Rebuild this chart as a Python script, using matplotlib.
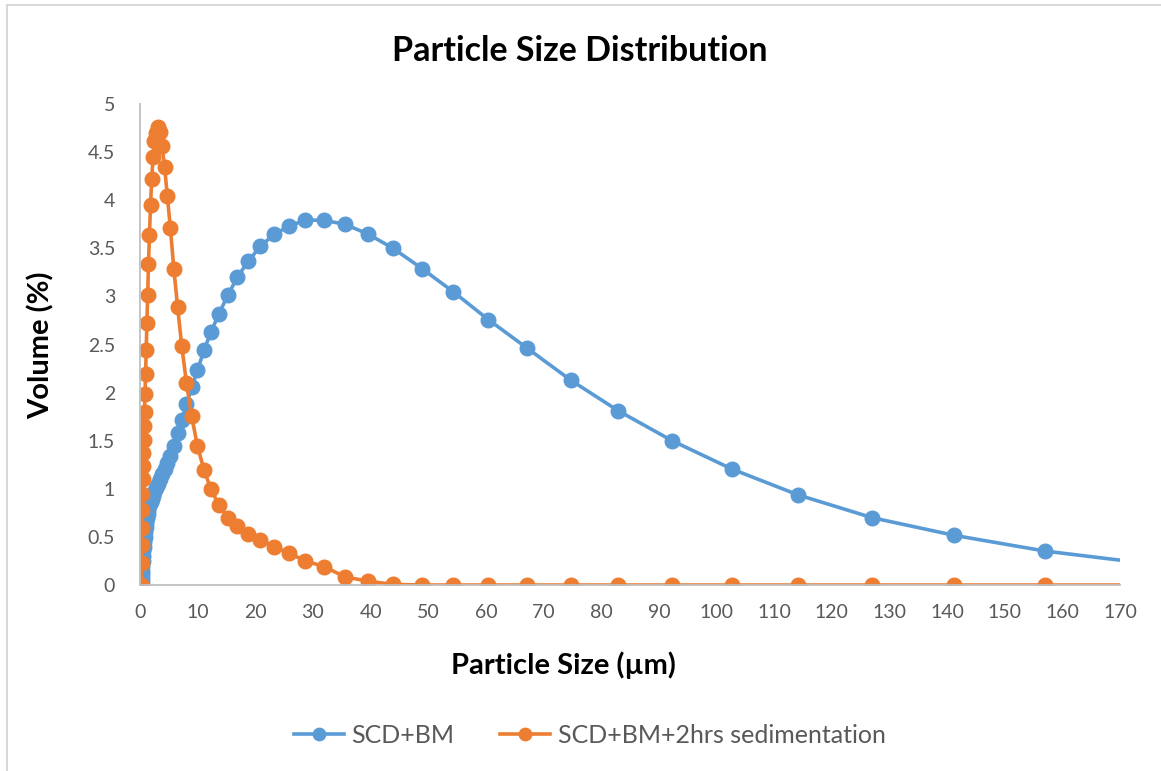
import matplotlib.pyplot as plt
from matplotlib.lines import Line2D

plt.rcParams['font.family'] = ['Lato', 'DejaVu Sans']

# particle size bins (um)
sizes = [0.19, 0.21, 0.24, 0.27, 0.30, 0.33, 0.37, 0.41, 0.46, 0.51, 0.57, 0.63,
         0.70, 0.78, 0.867, 0.964, 1.07, 1.19, 1.33, 1.47, 1.64, 1.82, 2.03,
         2.25, 2.51, 2.79, 3.10, 3.45, 3.83, 4.26, 4.74, 5.27, 5.86, 6.52,
         7.25, 8.06, 8.96, 9.97, 11.1, 12.3, 13.7, 15.2, 16.9, 18.8, 20.9,
         23.2, 25.9, 28.7, 32.0, 35.5, 39.5, 43.9, 48.9, 54.3, 60.4, 67.2,
         74.7, 83.0, 92.3, 102.7, 114.2, 127.0, 141.2, 157.0, 174.6]

scd_bm = [0, 0, 0, 0.03, 0.07, 0.11, 0.15, 0.20, 0.25, 0.30, 0.35, 0.40,
          0.45, 0.50, 0.55, 0.60, 0.65, 0.70, 0.74, 0.78, 0.82, 0.86, 0.89,
          0.93, 0.97, 1.01, 1.05, 1.10, 1.15, 1.21, 1.27, 1.34, 1.45, 1.58,
          1.715, 1.88, 2.055, 2.235, 2.44, 2.63, 2.82, 3.01, 3.20, 3.37, 3.52,
          3.645, 3.73, 3.795, 3.79, 3.75, 3.65, 3.50, 3.29, 3.05, 2.76, 2.46,
          2.13, 1.81, 1.50, 1.205, 0.936, 0.70, 0.517, 0.353, 0.225]

scd_bm_sed = [0, 0, 0, 0.23, 0.42, 0.59, 0.78, 0.95, 1.10, 1.24, 1.37, 1.51,
              1.65, 1.80, 1.99, 2.19, 2.44, 2.72, 3.01, 3.34, 3.64, 3.95, 4.22,
              4.45, 4.62, 4.70, 4.76, 4.71, 4.56, 4.35, 4.04, 3.71, 3.29, 2.89,
              2.48, 2.10, 1.757, 1.44, 1.20, 0.995, 0.83, 0.70, 0.61, 0.53, 0.47,
              0.40, 0.33, 0.25, 0.19, 0.086, 0.04, 0.007, 0, 0, 0, 0,
              0, 0, 0, 0, 0, 0, 0, 0, 0]

blue = '#5B9BD5'
orange = '#ED7D31'
grey_text = '#595959'

fig = plt.figure(figsize=(11.61, 7.71), dpi=100)
ax = fig.add_axes([0.1206, 0.2412, 0.8441, 0.6239])

ax.plot(sizes, scd_bm, color=blue, lw=2.6, marker='o', ms=10.5, label='SCD+BM')
ax.plot(sizes, scd_bm_sed, color=orange, lw=2.6, marker='o', ms=10.5,
        label='SCD+BM+2hrs sedimentation')

ax.set_xlim(0, 170)
ax.set_ylim(0, 5)
ax.set_xticks(range(0, 171, 10))
ax.set_yticks([0, 0.5, 1, 1.5, 2, 2.5, 3, 3.5, 4, 4.5, 5])
ax.set_yticklabels(['0', '0.5', '1', '1.5', '2', '2.5', '3', '3.5', '4', '4.5', '5'])
ax.tick_params(length=0, labelsize=14, labelcolor=grey_text)
ax.tick_params(axis='x', pad=14)
ax.tick_params(axis='y', pad=18)

for s in ['top', 'right']:
    ax.spines[s].set_visible(False)
for s in ['left', 'bottom']:
    ax.spines[s].set_color('#BFBFBF')
    ax.spines[s].set_linewidth(1.3)

fig.text(0.4995, 0.934, 'Particle Size Distribution', ha='center', va='center',
         fontsize=24.5, fontweight='bold', color='black')
fig.text(0.485, 0.137, 'Particle Size (µm)', ha='center', va='center',
         fontsize=21, fontweight='bold', color='black')
fig.text(0.035, 0.552, 'Volume (%)', ha='center', va='center', rotation=90,
         fontsize=21, fontweight='bold', color='black')

leg = fig.legend(loc='center', bbox_to_anchor=(0.508, 0.046), ncol=2, frameon=False,
                 fontsize=18, handlelength=2.0, columnspacing=1.85, handletextpad=0.3,
                 markerscale=0.85)
for t in leg.get_texts():
    t.set_color(grey_text)

# chart frame edges visible in the screenshot
fig.add_artist(Line2D([0.006, 0.006], [0, 0.994], color='#D9D9D9', lw=1.5))
fig.add_artist(Line2D([0.006, 1], [0.994, 0.994], color='#D9D9D9', lw=1.5))

fig.savefig('out.png', dpi=100)
